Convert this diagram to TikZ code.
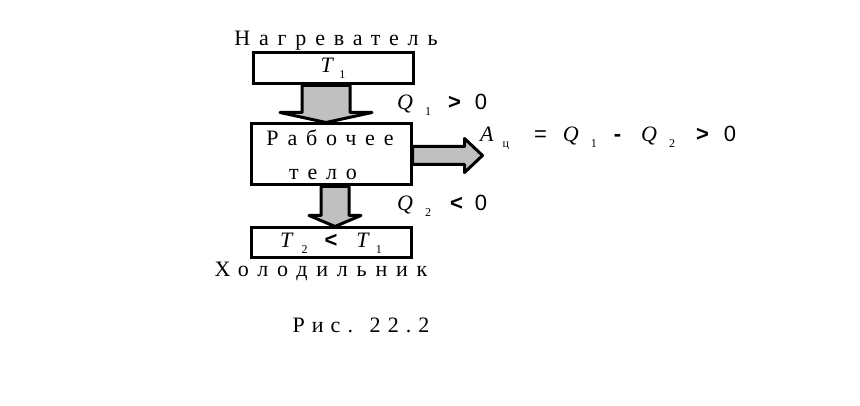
\documentclass[tikz,border=0pt]{standalone}
\usepackage{fontspec}
\setmainfont{Liberation Serif}
\newfontfamily\spaced[LetterSpace=40]{Liberation Serif}
\newfontfamily\opfont{Liberation Sans}
\usetikzlibrary{positioning,calc}
\definecolor{arrowgray}{HTML}{C0C0C0}
\newcommand{\ix}[2][8pt]{\hspace{#1}\raisebox{-6pt}{\fontsize{12}{12}\selectfont #2}}
\newcommand{\op}[1]{{\opfont #1}}
\newcommand{\rel}[1]{{\opfont\bfseries #1}}

\begin{document}
\begin{tikzpicture}[x=1pt, y=-1pt, font=\fontsize{22}{34}\selectfont,
	box/.style={draw, line width=3pt, minimum width=160pt, inner sep=0pt},
	fat/.style={draw, line width=3pt, fill=arrowgray, line join=round},
	lbl/.style={inner sep=0pt, anchor=base west},
	spacedlbl/.style={inner sep=0pt, anchor=base, font=\fontsize{22}{34}\selectfont\spaced}]

\useasboundingbox (0,0) rectangle (860,406);

% heater, working body, cooler
\node[box, minimum height=31pt] (hot) at (333,68.5) {\textit{T}\ix[5pt]{1}};
\node[box, minimum height=61pt, align=center, font=\fontsize{22}{34}\selectfont\spaced] (body) at (331,154.5) {\hspace{-2pt}Рабочее\\\hspace{-16pt}тело};
\node[box, minimum height=30pt] (cold) at (331,243) {\textit{T}\ix{2}\hspace{17pt}\rel{<}\hspace{19pt}\textit{T}\ix[6pt]{1}};

\node[spacedlbl] (hotlbl) at (336,46) {Нагреватель};
\node[spacedlbl] (coldlbl) at (321,277) {Холодильник};
\node[spacedlbl, font=\fontsize{22}{34}\selectfont\spaced\addfontfeature{LetterSpace=32}] (caption) at (361,332) {Рис. 22.2};

% heat in, heat out, work
\coordinate (a1) at ($(hot.south)+(-7,0)$);
\coordinate (t1) at (a1 |- body.north);
\draw[fat] ($(a1)+(-24,0)$) -- ($(a1)+(24,0)$) -- ($(t1)+(24,-10)$) -- ($(t1)+(46,-10)$)
	-- (t1) -- ($(t1)+(-46,-10)$) -- ($(t1)+(-24,-10)$) -- cycle;

\coordinate (a2) at ($(body.south)+(4,0)$);
\coordinate (t2) at (a2 |- cold.north);
\draw[fat] ($(a2)+(-14,0)$) -- ($(a2)+(14,0)$) -- ($(t2)+(14,-11)$) -- ($(t2)+(26,-11)$)
	-- (t2) -- ($(t2)+(-26,-11)$) -- ($(t2)+(-14,-11)$) -- cycle;

\coordinate (a3) at ($(body.east)+(0,1)$);
\coordinate (worktip) at ($(a3)+(70,0)$);
\draw[fat] ($(a3)+(0,-9)$) -- ($(worktip)+(-18,-9)$) -- ($(worktip)+(-18,-17)$) -- (worktip)
	-- ($(worktip)+(-18,17)$) -- ($(worktip)+(-18,9)$) -- ($(a3)+(0,9)$) -- cycle;

\node[lbl] (qin) at (397,110) {\textit{Q}\ix[12pt]{1}\hspace{17pt}\rel{>}\hspace{14pt}\op{0}};
\node[lbl] (qout) at (397,211) {\textit{Q}\ix[12pt]{2}\hspace{19pt}\rel{<}\hspace{12pt}\op{0}};
\node[lbl] (work) at (480,142) {\textit{A}\ix[9pt]{ц}\hspace{25pt}\op{=}\hspace{16pt}\textit{Q}\ix[12pt]{1}\hspace{17pt}\rel{-}\hspace{20pt}\textit{Q}\ix[12pt]{2}\hspace{21pt}\rel{>}\hspace{15pt}\op{0}};
\end{tikzpicture}
\end{document}
